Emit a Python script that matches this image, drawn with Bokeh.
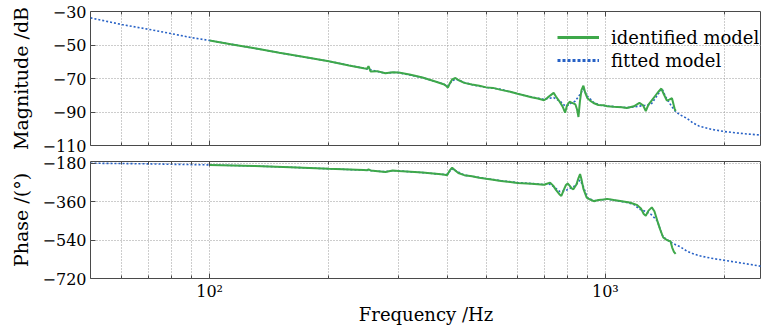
from bokeh.plotting import figure
from bokeh.layouts import column
from bokeh.models import FixedTicker, Legend, LegendItem, LogAxis
from bokeh.embed import file_html
from bokeh.resources import INLINE

# ---------------- data ----------------
freq_fit = [50, 60, 70, 80, 90, 100, 130, 160, 200, 250, 278, 290, 300, 345, 390,
            400, 408, 418, 440, 470, 500, 545, 600, 650, 700, 720, 740, 768, 791,
            805, 820, 838, 863, 880, 900, 935, 970, 1011, 1070, 1133, 1177, 1219,
            1260, 1305, 1353, 1390, 1420, 1450, 1480, 1505, 1547, 1607, 1660, 1724,
            1850, 2000, 2250, 2480]
mag_fit = [-33.8, -37.8, -40.6, -43.2, -45.6, -47.3, -52.0, -55.8, -59.7, -64.3,
           -66.9, -66.4, -66.5, -69.5, -73.3, -74.5, -72.0, -70.2, -72.4, -74.2,
           -75.3, -76.5, -79.2, -81.0, -82.5, -81.8, -81.4, -83.5, -86.4, -86.0,
           -84.6, -83.6, -79.5, -76.3, -80.5, -84.4, -86.0, -86.4, -87.0, -87.4,
           -87.0, -86.5, -86.0, -85.4, -80.0, -76.0, -81.0, -84.5, -87.5, -89.8,
           -91.8, -93.8, -96.3, -98.4, -100.3, -101.7, -103.0, -103.8]
phase_fit = [-180, -181.5, -183, -185, -186.5, -188, -193, -199, -206, -213, -220,
             -215, -216, -224, -233, -232, -206, -214, -236, -244, -252, -262, -271,
             -275, -280, -276, -290, -313, -310, -302, -295, -286, -259, -290, -341,
             -356, -352, -348, -356, -364, -372, -395, -405, -420, -450, -515, -535,
             -545, -555, -562, -572, -592, -603, -613, -625, -635, -650, -663]

freq_id_mag = [100, 115, 130, 150, 175, 200, 225, 245, 250, 252, 255, 265, 278, 290,
               300, 320, 345, 370, 390, 396, 400, 404, 410, 418, 425, 440, 460, 480,
               500, 520, 545, 575, 600, 625, 650, 675, 700, 712, 725, 740, 750, 765,
               780, 791, 800, 812, 821, 830, 840, 848, 855, 862, 870, 880, 890, 900,
               915, 933, 960, 990, 1011, 1050, 1100, 1133, 1180, 1219, 1245, 1265,
               1285, 1310, 1340, 1365, 1385, 1405, 1430, 1450, 1473, 1485, 1495, 1505]
mag_id = [-47.3, -49.8, -52.0, -54.6, -57.3, -59.7, -62.2, -63.9, -64.2, -62.6,
          -65.8, -65.6, -66.9, -66.3, -66.4, -67.6, -69.4, -71.6, -73.4, -74.4,
          -75.5, -73.2, -70.6, -69.7, -70.9, -72.6, -73.6, -74.3, -75.3, -75.6,
          -76.8, -77.9, -79.1, -80.1, -81.2, -81.9, -83.0, -81.7, -80.2, -78.6,
          -80.8, -83.6, -86.8, -90.4, -86.0, -83.9, -84.4, -84.9, -85.5, -88.5,
          -93.0, -84.0, -77.0, -74.3, -78.8, -81.6, -83.2, -84.6, -85.8, -86.0,
          -86.6, -86.9, -87.1, -87.6, -86.6, -84.6, -86.0, -89.4, -85.6, -83.0,
          -80.0, -77.6, -76.0, -79.4, -83.2, -82.6, -81.8, -85.0, -87.8, -89.4]

freq_id_ph = [100, 130, 160, 200, 245, 250, 252, 255, 278, 290, 300, 345, 390, 398,
              404, 410, 416, 425, 440, 460, 480, 500, 520, 545, 575, 600, 650, 700,
              712, 725, 738, 750, 765, 774, 785, 795, 803, 812, 822, 830, 845, 855,
              863, 870, 880, 897, 915, 935, 960, 990, 1011, 1050, 1100, 1150, 1177,
              1200, 1230, 1250, 1265, 1285, 1310, 1330, 1353, 1375, 1400, 1425, 1443,
              1460, 1475, 1490, 1505]
phase_id = [-188, -193, -199, -206, -212, -213, -209, -214, -221, -214, -216, -224,
            -233, -236, -215, -201, -212, -226, -236, -241, -248, -253, -257, -263,
            -268, -273, -276, -281, -276, -271, -285, -305, -325, -333, -305, -282,
            -275, -285, -298, -302, -280, -250, -231, -255, -300, -341, -350, -358,
            -352, -350, -347, -352, -358, -364, -370, -375, -392, -418, -426, -402,
            -387, -405, -450, -490, -528, -538, -543, -545, -575, -595, -605]

x_major = [100, 1000]
x_minor = [60, 70, 80, 90, 200, 300, 400, 500, 600, 700, 800, 900, 2000]
x_labels = {100: "10²", 1000: "10³"}
mag_ticks = [-110, -90, -70, -50, -30]
phase_ticks = [-720, -540, -360, -180]

# ---------------- styling ----------------
FONT = "DejaVu Serif"
GREEN = "#3ea84a"
BLUE = "#2862c6"
GRID = "#9a9a9a"
FRAME = "#4a4a4a"


def minus(v):
    return str(v).replace("-", "\u2212")


def hide_labels(ax):
    ax.major_label_text_font_size = "1px"
    ax.major_label_text_alpha = 0
    ax.major_label_standoff = 0


def tick_style(ax):
    ax.axis_line_color = None
    ax.major_tick_in = 5
    ax.major_tick_out = 0
    ax.minor_tick_in = 3
    ax.minor_tick_out = 0
    ax.major_tick_line_color = FRAME
    ax.minor_tick_line_color = FRAME
    ax.major_label_text_font = FONT
    ax.major_label_text_color = "black"
    ax.axis_label_text_font = FONT
    ax.axis_label_text_font_style = "normal"
    ax.axis_label_text_color = "black"


def style(p, yticks):
    p.outline_line_color = FRAME
    p.outline_line_width = 1
    p.background_fill_color = "white"
    p.border_fill_color = "white"
    xb = p.below[0]
    yl = p.left[0]
    xt = FixedTicker(ticks=x_major, minor_ticks=x_minor)
    xb.ticker = xt
    p.xgrid.ticker = xt
    p.xgrid.grid_line_color = GRID
    p.xgrid.grid_line_dash = "1 2"
    p.xgrid.minor_grid_line_color = GRID
    p.xgrid.minor_grid_line_dash = "1 2"
    yt = FixedTicker(ticks=yticks)
    yl.ticker = yt
    p.ygrid.ticker = yt
    p.ygrid.grid_line_color = GRID
    p.ygrid.grid_line_dash = "1 2"
    tick_style(xb)
    tick_style(yl)
    yl.major_label_text_font_size = "16px"
    yl.major_label_standoff = 4
    yl.axis_label_text_font_size = "19px"
    yl.axis_label_standoff = 8
    yl.major_label_overrides = {v: minus(v) for v in yticks}
    yl.minor_tick_line_color = None
    # ticks on the upper frame edge
    top_ax = LogAxis(ticker=xt)
    tick_style(top_ax)
    hide_labels(top_ax)
    p.add_layout(top_ax, "above")
    return xb, yl


common = dict(width=761, x_axis_type="log", x_range=(50, 2480), output_backend="svg",
              toolbar_location=None, min_border_left=90, min_border_right=0)

top = figure(height=154, y_range=(-110, -30), min_border_top=11, min_border_bottom=9,
             **common)
txb, tyl = style(top, mag_ticks)
hide_labels(txb)
tyl.axis_label = "Magnitude /dB"

top.line(freq_fit, mag_fit, line_color=BLUE, line_width=1.6, line_dash="2 2")
top.line(freq_id_mag, mag_id, line_color=GREEN, line_width=2.0)

# legend swatches (off-screen points, only their legend glyphs are seen)
lg = top.line(x=[60], y=[-200], line_color=GREEN, line_width=3)
lb = top.line(x=[60], y=[-200], line_color=BLUE, line_width=3, line_dash="3 2")
legend = Legend(items=[LegendItem(label="identified model", renderers=[lg]),
                       LegendItem(label="fitted model", renderers=[lb])],
                location=(467, 74), orientation="vertical",
                label_text_font=FONT, label_text_font_size="18px",
                label_text_color="black", glyph_width=42, glyph_height=22,
                label_height=22, label_standoff=12, spacing=1, padding=0,
                margin=0, border_line_color=None, background_fill_alpha=0)
top.add_layout(legend)

bottom = figure(height=175, y_range=(-720, -172), min_border_top=7,
                min_border_bottom=51, **common)
bxb, byl = style(bottom, phase_ticks)
byl.axis_label = "Phase /(°)"
bxb.axis_label = "Frequency /Hz"
bxb.axis_label_text_font_size = "18px"
bxb.axis_label_standoff = 0
bxb.major_label_text_font_size = "16px"
bxb.major_label_standoff = 3
bxb.major_label_overrides = x_labels

bottom.line(freq_fit, phase_fit, line_color=BLUE, line_width=1.6, line_dash="2 2")
bottom.line(freq_id_ph, phase_id, line_color=GREEN, line_width=2.0)

layout = column(top, bottom, spacing=0)

with open("out.html", "w") as f:
    f.write(file_html(layout, INLINE))
